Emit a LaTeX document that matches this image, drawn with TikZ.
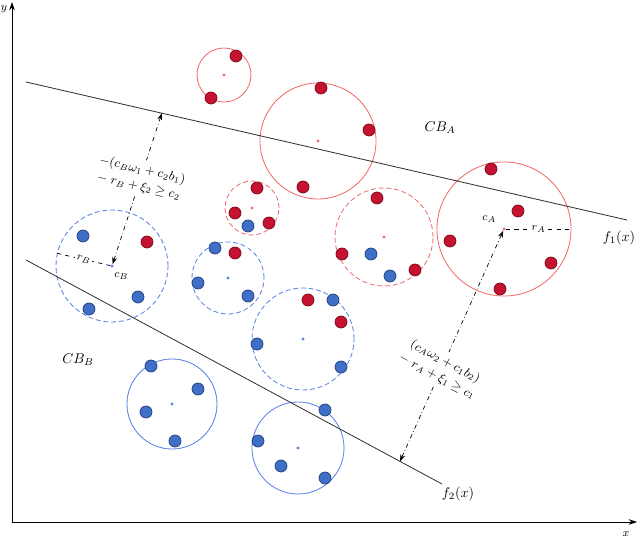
\documentclass[tikz,border=0pt]{standalone}
\usepackage{amsmath}
\usetikzlibrary{arrows.meta,positioning,calc}
\definecolor{dotred}{HTML}{C41230}
\definecolor{dotredline}{HTML}{7A0A1A}
\definecolor{dotblue}{HTML}{3F6FC6}
\definecolor{dotblueline}{HTML}{1F3F80}
\definecolor{ringred}{HTML}{F26B6B}
\definecolor{ringblue}{HTML}{5B82E6}

\begin{document}
\begin{tikzpicture}[x=0.025cm,y=-0.025cm,
    pa/.style={circle,fill=dotred,draw=dotredline,line width=0.5pt,inner sep=0pt,minimum size=0.3cm},
    pb/.style={circle,fill=dotblue,draw=dotblueline,line width=0.5pt,inner sep=0pt,minimum size=0.3cm},
    ca/.style={circle,fill=ringred,inner sep=0pt,minimum size=0.08cm},
    cb/.style={circle,fill=ringblue,inner sep=0pt,minimum size=0.08cm},
    ga/.style={circle,draw=ringred,line width=0.6pt,inner sep=0pt,minimum size=#1*0.05cm},
    gb/.style={circle,draw=ringblue,line width=0.6pt,inner sep=0pt,minimum size=#1*0.05cm},
    loose/.style={dash pattern=on 3.5pt off 2pt},
    bound/.style={line width=0.6pt,black!80},
    margin/.style={dashdotted,line width=0.5pt,{Stealth[length=5pt,width=3.5pt]}-{Stealth[length=5pt,width=3.5pt]}},
    rule/.style={fill=white,inner sep=3pt,align=center,font=\small},
]
\useasboundingbox (0,0) rectangle (640,538);

% axes
\coordinate (o)    at (12,522);
\coordinate (ytop) at (12,2);
\coordinate (xend) at (637,522);
\draw[line width=0.6pt,-{Stealth[length=6pt,width=4pt]}] (o) -- (ytop);
\draw[line width=0.6pt,-{Stealth[length=6pt,width=4pt]}] (o) -- (xend);
\node[font=\footnotesize] (ylab) at (4,9)    {$y$};
\node[font=\footnotesize] (xlab) at (626,534) {$x$};

% balls of class A
\node[ga=27]       (gA1) at (224,75)  {};
\node[ga=58]       (gA2) at (318,141) {};
\node[ga=27,loose] (gA3) at (252,208) {};
\node[ga=49,loose] (gA4) at (384,237) {};
\node[ga=67]       (gA5) at (504,229) {};
\node[ca] (cA1) at (gA1) {};
\node[ca] (cA2) at (gA2) {};
\node[ca] (cA3) at (gA3) {};
\node[ca] (cA4) at (gA4) {};
\node[ca] (cA)  at (gA5) {};

% balls of class B
\node[gb=56,loose] (gB1) at (112,266) {};
\node[gb=36,loose] (gB2) at (228,278) {};
\node[gb=51,loose] (gB3) at (303,339) {};
\node[gb=45]       (gB4) at (172,404) {};
\node[gb=46]       (gB5) at (298,448) {};
\node[cb] (cB)  at (gB1) {};
\node[cb] (cB2) at (gB2) {};
\node[cb] (cB3) at (gB3) {};
\node[cb] (cB4) at (gB4) {};
\node[cb] (cB5) at (gB5) {};

% separating lines
\coordinate (f1s) at (26,82);
\coordinate (f1e) at (627,220);
\coordinate (f2s) at (26,260);
\coordinate (f2e) at (442,484);
\draw[bound] (f1s) -- (f1e);
\draw[bound] (f2s) -- (f2e);
\node[anchor=east] (lf1) at (640,238) {$f_1(x)$};
\node (lf2) at (458,494) {$f_2(x)$};
\node (lA)  at (440,128) {$CB_A$};
\node (lB)  at (78,360)  {$CB_B$};

% margins
\coordinate (pB) at ($(f1s)!0.226!(f1e)$);
\coordinate (pA) at ($(f2s)!0.899!(f2e)$);
\draw[margin] (pB) -- node[rule,rotate=-13,pos=0.43] {$-(c_B\omega_1 + c_2 b_1)$\\[1pt]$-\; r_B + \xi_2 \geq c_2$} (cB);
\draw[margin] (cA) -- node[rule,rotate=-28,pos=0.6] {$(c_A\omega_2 + c_1 b_2)$\\[1pt]$-\; r_A + \xi_1 \geq c_1$} (pA);

% radii
\draw[dashed,line width=0.5pt] (gB1.167) -- node[fill=white,inner sep=1pt,font=\footnotesize,rotate=-13] {$r_B$} (cB);
\draw[dashed,line width=0.5pt] (cA) -- node[fill=white,inner sep=1pt,font=\footnotesize] {$r_A$} (gA5.east);
\node[font=\footnotesize] (lcA) [above left=0cm and 0.04cm of cA] {$c_A$};
\node[font=\footnotesize] (lcB) [below right=0.02cm and -0.1cm of cB]  {$c_B$};

% points
\foreach \p [count=\i] in {(236,56),(211,98),(321,88),(369,130),(303,187),
    (257,188),(235,213),(269,223),(377,198),(342,254),(415,270),
    (491,169),(518,211),(450,241),(551,263),(500,289),
    (147,242),(235,253),(308,300),(341,322)}
    \node[pa] (a\i) at \p {};
\foreach \p [count=\i] in {(248,226),(371,254),(390,276),
    (83,236),(138,297),(89,309),(215,248),(198,283),(248,296),
    (333,300),(257,344),(341,367),(151,366),(198,389),(146,412),(175,441),
    (325,410),(258,441),(281,466),(325,478)}
    \node[pb] (b\i) at \p {};
\end{tikzpicture}
\end{document}
